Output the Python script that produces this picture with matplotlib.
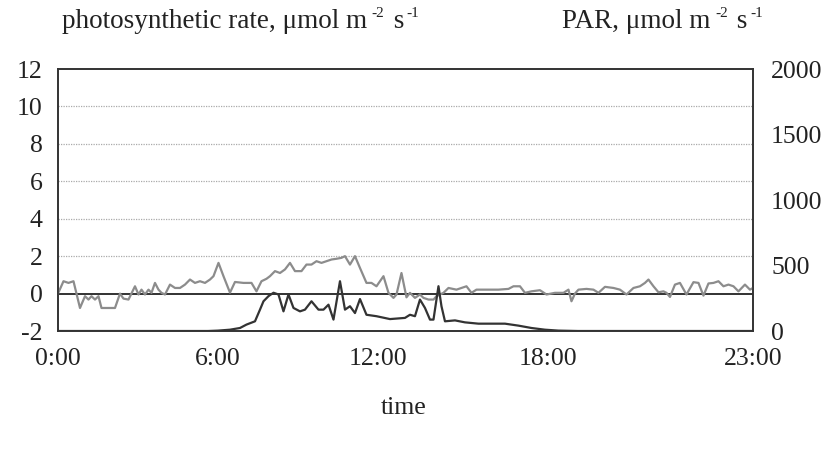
import matplotlib
matplotlib.use('Agg')
import matplotlib.pyplot as plt

plt.rcParams['font.family'] = ['Liberation Serif', 'DejaVu Serif']
plt.rcParams['axes.unicode_minus'] = False

# logger sample number along the day; axis runs 0..139
time_ticks = [0, 32, 64, 98, 139]
time_labels = ['0:00', '6:00', '12:00', '18:00', '23:00']

rate_t = [0, 1.1, 2.1, 3.1, 3.7, 4.4, 5.4, 6.1, 6.7, 7.4, 8.1, 8.7, 11.4, 12.4, 13.1,
          14.1, 15.4, 16.1, 16.7, 17.4, 18.1, 18.7, 19.4, 20.1, 20.7, 21.4, 22.4,
          23.4, 24.4, 25.4, 26.4, 27.4, 28.4, 29.4, 30.4, 31.1, 32.1, 33.1, 34.4,
          35.4, 37.1, 38.7, 39.7, 40.7, 41.7, 42.4, 43.4, 44.4, 45.4, 46.4, 47.4,
          48.7, 49.7, 50.7, 51.7, 52.7, 53.7, 54.7, 55.7, 56.7, 57.4, 58.4, 59.4,
          60.4, 61.7, 62.7, 63.7, 65.1, 66.1, 67.1, 67.7, 68.7, 69.7, 70.4, 71.4,
          72.4, 73.1, 74.1, 75.1, 75.7, 77.1, 78.1, 79.7, 80.7, 81.7, 82.7, 83.7,
          86.1, 88.1, 90.1, 91.1, 92.4, 93.4, 94.7, 96.4, 97.7, 99.4, 101.1, 102.1,
          102.7, 103.4, 104.1, 105.7, 107.1, 108.1, 109.4, 111.1, 112.4, 113.7,
          115.1, 116.4, 117.4, 118.1, 119.1, 120.1, 121.1, 121.7, 122.4, 123.4,
          124.4, 125.7, 127.1, 128.1, 129.1, 130.1, 131.1, 132.1, 133.1, 134.1,
          135.1, 136.1, 137.4, 138.4, 139]
rate = [0, 0.66, 0.57, 0.66, 0, -0.77, -0.14, -0.32, -0.14, -0.32, -0.14, -0.77, -0.77, 0, -0.27,
        -0.32, 0.39, -0.05, 0.21, -0.05, 0.21, 0.04, 0.57, 0.21, 0.04, -0.05, 0.48,
        0.3, 0.3, 0.48, 0.75, 0.57, 0.66, 0.57, 0.75, 0.93, 1.64, 0.93, 0.05,
        0.62, 0.57, 0.57, 0.12, 0.66, 0.79, 0.93, 1.2, 1.1, 1.29, 1.64, 1.2,
        1.2, 1.55, 1.55, 1.73, 1.64, 1.73, 1.82, 1.86, 1.91, 2.0, 1.55, 2.0,
        1.37, 0.57, 0.57, 0.39, 0.93, 0.04, -0.23, -0.05, 1.1, -0.2, 0.04, -0.23,
        -0.05, -0.23, -0.32, -0.32, -0.14, 0.04, 0.3, 0.21, 0.3, 0.39, 0.04, 0.21,
        0.21, 0.21, 0.25, 0.39, 0.39, 0.04, 0.12, 0.18, -0.05, 0.04, 0.04, 0.21,
        -0.41, 0.0, 0.21, 0.25, 0.21, 0.04, 0.36, 0.3, 0.21, -0.05,
        0.3, 0.39, 0.57, 0.75, 0.39, 0.07, 0.12, 0.04, -0.18, 0.48,
        0.57, -0.05, 0.61, 0.57, -0.11, 0.54, 0.57, 0.66, 0.39, 0.48,
        0.39, 0.12, 0.48, 0.21, 0.3]

par_t = [0, 30, 32, 34.4, 36.4, 37.7, 39.4, 40.4, 41.1, 42.1, 43.1, 44.1, 45.1, 46.1,
         47.1, 48.4, 49.4, 50.7, 52.1, 53.1, 54.1, 55.1, 56.4, 57.4, 58.4, 59.4,
         60.4, 61.7, 63.7, 66.4, 69.4, 70.4, 71.4, 72.4, 73.4, 74.4, 75.1, 76.1,
         76.7, 77.4, 79.4, 81.4, 84.1, 86.7, 89.4, 92.1, 94.7, 97.4, 100.1, 104, 139]
par = [0, 0, 3, 10, 23, 49, 74, 163, 227, 266, 292, 279, 150, 279,
       176, 150, 163, 227, 163, 163, 201, 87, 380, 163, 189, 137,
       244, 124, 113, 91, 100, 124, 113, 240, 176, 87, 87, 342,
       189, 74, 81, 66, 56, 56, 56, 41, 23, 10, 3, 0, 0]

fig = plt.figure(figsize=(8.32, 4.57), dpi=100)
ax = fig.add_axes([0.0697, 0.2757, 0.8353, 0.5733])
ax2 = ax.twinx()

ax.plot(rate_t, rate, color='#8c8c8c', lw=1.6, zorder=3)
ax2.plot(par_t, par, color='#333333', lw=1.6, zorder=3)

ax.axhline(0, color='#222222', lw=1.3, zorder=2)
for g in [2, 4, 6, 8, 10]:
    ax.axhline(g, color='#aaaaaa', lw=0.9, ls=(0, (1, 1)), zorder=1)

ax.set_xlim(0, 139)
ax.set_ylim(-2, 12)
ax.set_yticks(range(-2, 13, 2))
ax2.set_ylim(0, 2000)
ax2.set_yticks([0, 500, 1000, 1500, 2000])
ax.set_xticks(time_ticks)
ax.set_xticklabels(time_labels)

ax.tick_params(axis='both', length=0, labelsize=18.5, colors='#222222')
ax.tick_params(axis='y', pad=11)
ax.tick_params(axis='x', pad=12)
ax2.tick_params(axis='y', length=0, labelsize=18.5, colors='#222222', pad=13)

for a in (ax, ax2):
    for s in a.spines.values():
        s.set_color('#333333')
        s.set_linewidth(1.2)


def unit_title(x, head):
    # axis caption with small raised exponents, placed piece by piece
    t = fig.text(x, 0.938, head, fontsize=19.5, color='#222222', va='baseline')
    fig.canvas.draw()
    r = fig.transFigure.inverted()
    bb = t.get_window_extent().transformed(r)
    xs = bb.x1 + 0.006
    for base, sup in [('', '-2'), (' s', '-1')]:
        if base:
            b = fig.text(xs, 0.938, base, fontsize=19.5, color='#222222', va='baseline')
            xs = b.get_window_extent().transformed(r).x1 + 0.003
        s = fig.text(xs, 0.963, sup, fontsize=11, color='#222222', va='baseline')
        xs = s.get_window_extent().transformed(r).x1 + 0.003


unit_title(0.074, 'photosynthetic rate, μmol m')
unit_title(0.675, 'PAR, μmol m')
fig.text(0.485, 0.095, 'time', fontsize=18.5, color='#222222', ha='center', va='baseline')

fig.savefig('out.png', dpi=100, facecolor='white')
